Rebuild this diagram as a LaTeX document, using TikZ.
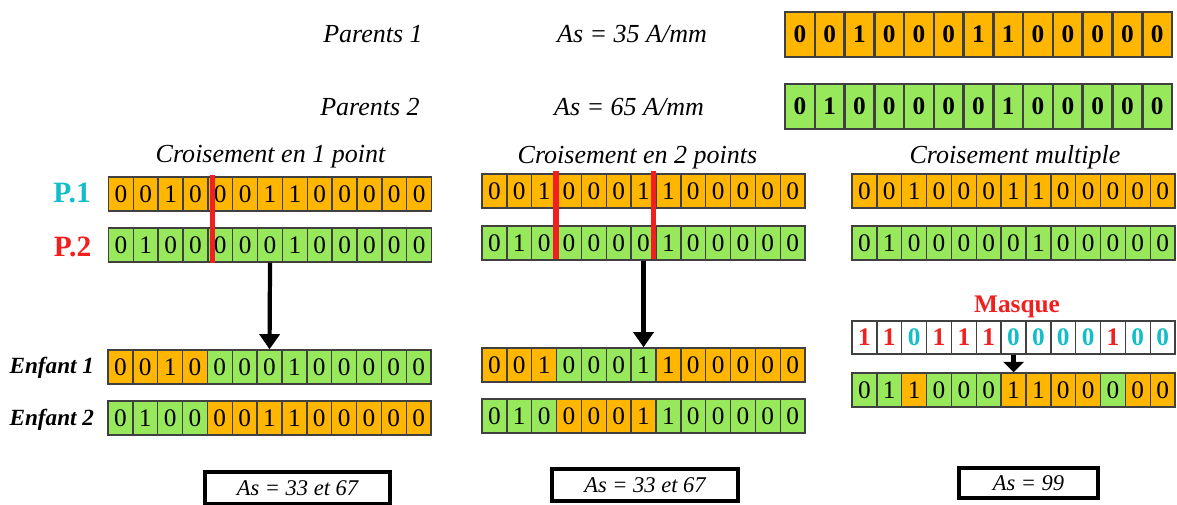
\documentclass[tikz,border=0pt]{standalone}
\usepackage{fontspec}
\setmainfont{Liberation Serif}
\usetikzlibrary{arrows.meta,calc}

\definecolor{geneA}{RGB}{255,182,0}
\definecolor{geneB}{RGB}{152,232,92}
\definecolor{cutred}{RGB}{240,32,32}
\definecolor{tagcyan}{RGB}{20,190,200}

% one chromosome: [extra]{name}{left}{top}{cell width}{height}{bit/fill,...}
\newcommand{\chromo}[7][]{%
	\foreach \b/\f [count=\i] in {#7}
		\node[cell, fill=\f, #1, minimum width=#5*0.025cm, minimum height=#6*0.025cm]
			(#2-\i) at ({#3+(\i-0.5)*#5}, {#4+#6/2}) {\b};
}

\begin{document}
\begin{tikzpicture}[x=0.025cm, y=-0.025cm,
	cell/.style={draw=black!75, line width=1pt, inner sep=0pt, font=\fontsize{18}{18}\selectfont},
	lbl/.style={font=\fontsize{18.5}{20}\selectfont\itshape, anchor=base},
	tag/.style={font=\fontsize{21}{21}\selectfont\bfseries, anchor=base},
	kid/.style={font=\fontsize{16.5}{18}\selectfont\bfseries\itshape, anchor=base east},
	cut/.style={cutred, line width=4pt},
	flow/.style={line width=3pt, -{Triangle[length=0.38cm, width=0.5cm]}},
	score/.style={draw, line width=2.2pt, inner sep=0pt, font=\fontsize{16}{16}\selectfont\itshape}]
	\useasboundingbox (0,0) rectangle (1177,505);

	% parents
	\node[lbl] (par1) at (373,43) {Parents 1};
	\node[lbl] (as1) at (632,43) {As = 35 A/mm};
	\node[lbl] (par2) at (370,116) {Parents 2};
	\node[lbl] (as2) at (629,116) {As = 65 A/mm};
	\chromo[font=\fontsize{18}{18}\selectfont\bfseries, line width=1.8pt]{top1}{785}{12}{29.77}{45}
		{0/geneA,0/geneA,1/geneA,0/geneA,0/geneA,0/geneA,1/geneA,1/geneA,0/geneA,0/geneA,0/geneA,0/geneA,0/geneA}
	\chromo[font=\fontsize{18}{18}\selectfont\bfseries, line width=1.8pt]{top2}{785}{84}{29.77}{45}
		{0/geneB,1/geneB,0/geneB,0/geneB,0/geneB,0/geneB,0/geneB,1/geneB,0/geneB,0/geneB,0/geneB,0/geneB,0/geneB}

	% one point crossover
	\node[lbl] (t1) at (270.5,163) {Croisement en 1 point};
	\node[tag, text=tagcyan] (p1) at (72,203) {P.1};
	\node[tag, text=cutred] (p2) at (72.5,257) {P.2};
	\chromo{l1}{108.5}{177}{24.85}{34}
		{0/geneA,0/geneA,1/geneA,0/geneA,0/geneA,0/geneA,1/geneA,1/geneA,0/geneA,0/geneA,0/geneA,0/geneA,0/geneA}
	\chromo{l2}{108.5}{228}{24.85}{34}
		{0/geneB,1/geneB,0/geneB,0/geneB,0/geneB,0/geneB,0/geneB,1/geneB,0/geneB,0/geneB,0/geneB,0/geneB,0/geneB}
	\draw[cut] ($(l1-4.north east)+(4,-1)$) -- ($(l2-4.south east)+(4,0)$);
	\node[kid] (e1) at (99,373) {Enfant 1};
	\node[kid] (e2) at (99,425) {Enfant 2};
	\chromo{le1}{108}{350}{24.85}{34}
		{0/geneA,0/geneA,1/geneA,0/geneA,0/geneB,0/geneB,0/geneB,1/geneB,0/geneB,0/geneB,0/geneB,0/geneB,0/geneB}
	\chromo{le2}{108}{401}{24.85}{34}
		{0/geneB,1/geneB,0/geneB,0/geneB,0/geneA,0/geneA,1/geneA,1/geneA,0/geneA,0/geneA,0/geneA,0/geneA,0/geneA}
	\draw[flow] (l2-7.south) -- (le1-7.north);

	% two point crossover
	\node[lbl] (t2) at (637.5,164) {Croisement en 2 points};
	\chromo{m1}{482}{174}{24.85}{34}
		{0/geneA,0/geneA,1/geneA,0/geneA,0/geneA,0/geneA,1/geneA,1/geneA,0/geneA,0/geneA,0/geneA,0/geneA,0/geneA}
	\chromo{m2}{482}{226}{24.85}{34}
		{0/geneB,1/geneB,0/geneB,0/geneB,0/geneB,0/geneB,0/geneB,1/geneB,0/geneB,0/geneB,0/geneB,0/geneB,0/geneB}
	\draw[cut] ($(m1-3.north east)+(-1.5,-2)$) -- ($(m2-3.south east)+(-1.5,-2)$);
	\draw[cut] ($(m1-7.north east)+(-3,-2)$) -- ($(m2-7.south east)+(-3,-2)$);
	\chromo{me1}{482}{348}{24.85}{34}
		{0/geneA,0/geneA,1/geneA,0/geneB,0/geneB,0/geneB,1/geneB,1/geneA,0/geneA,0/geneA,0/geneA,0/geneA,0/geneA}
	\chromo{me2}{482}{399}{24.85}{34}
		{0/geneB,1/geneB,0/geneB,0/geneA,0/geneA,0/geneA,1/geneA,1/geneB,0/geneB,0/geneB,0/geneB,0/geneB,0/geneB}
	\draw[flow] (m2-7.south) -- (me1-7.north);

	% uniform crossover with a mask
	\node[lbl] (t3) at (1015,164) {Croisement multiple};
	\chromo{r1}{852}{174}{24.85}{34}
		{0/geneA,0/geneA,1/geneA,0/geneA,0/geneA,0/geneA,1/geneA,1/geneA,0/geneA,0/geneA,0/geneA,0/geneA,0/geneA}
	\chromo{r2}{852}{226}{24.85}{34}
		{0/geneB,1/geneB,0/geneB,0/geneB,0/geneB,0/geneB,0/geneB,1/geneB,0/geneB,0/geneB,0/geneB,0/geneB,0/geneB}
	\node[font=\fontsize{18}{18}\selectfont\bfseries, text=cutred, anchor=base] (mask) at (1017,312) {Masque};
	\chromo[fill=white, text=\f, font=\fontsize{18}{18}\selectfont\bfseries]{rm}{852}{321}{24.85}{33}
		{1/cutred,1/cutred,0/tagcyan,1/cutred,1/cutred,1/cutred,0/tagcyan,0/tagcyan,0/tagcyan,0/tagcyan,1/cutred,0/tagcyan,0/tagcyan}
	\chromo{rc}{852}{373}{24.85}{34}
		{0/geneB,1/geneB,1/geneA,0/geneB,0/geneB,0/geneB,1/geneA,1/geneA,0/geneA,0/geneA,0/geneB,0/geneA,0/geneA}
	\draw[flow, -{Triangle[length=0.26cm, width=0.5cm]}] (rm-7.south) -- (rc-7.north);

	% resulting sections
	\node[score, minimum width=4.625cm, minimum height=0.8cm] (s1) at (297.5,488) {As = 33 et 67};
	\node[score, minimum width=4.65cm, minimum height=0.8cm] (s2) at (645,485) {As = 33 et 67};
	\node[score, minimum width=3.475cm, minimum height=0.75cm] (s3) at (1028.5,483) {As = 99};
\end{tikzpicture}
\end{document}
